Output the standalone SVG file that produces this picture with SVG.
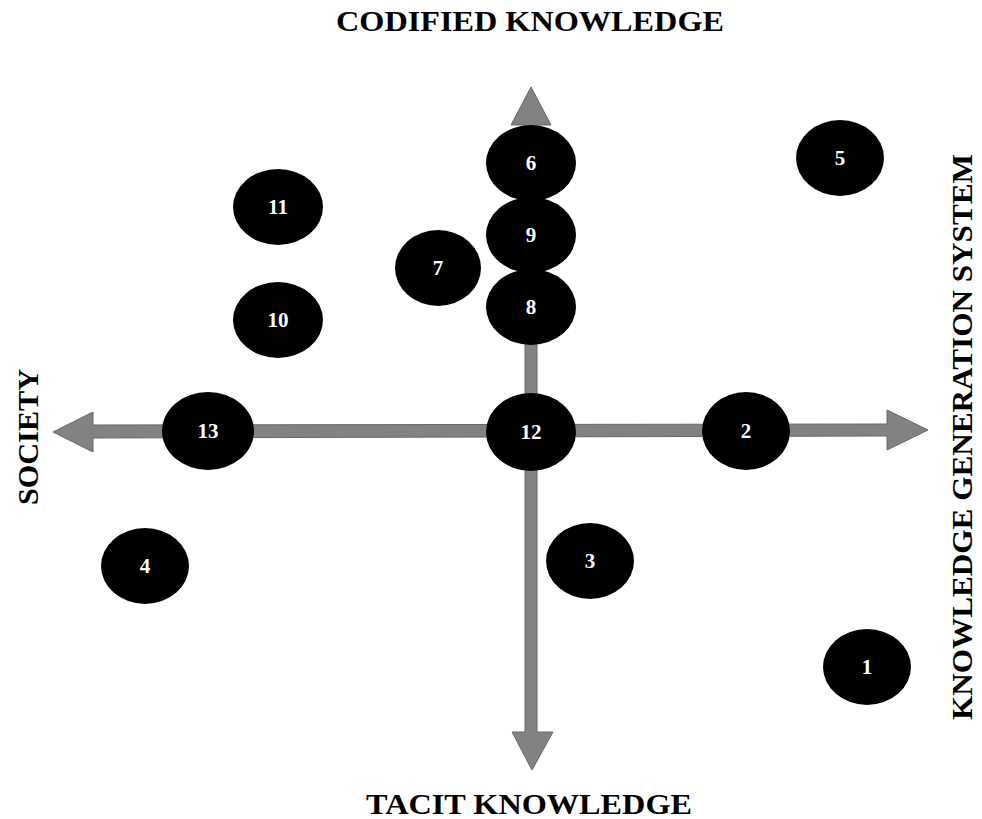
<svg xmlns="http://www.w3.org/2000/svg" width="982" height="819" viewBox="0 0 982 819">
<style>
.ax{fill:#828282;stroke:#666;stroke-width:1}
.nd{fill:#000}
.nt{fill:#fff;font-family:"Liberation Serif","Times New Roman",serif;font-weight:bold;font-size:21px;text-anchor:middle}
.lb{fill:#000;font-family:"Liberation Serif","Times New Roman",serif;font-weight:bold;font-size:30px;text-anchor:middle}
</style>
<rect width="982" height="819" fill="#fff"/>
<g id="connectors">
<polygon class="ax" points="525,125 511,125 531,87 551,125 537,125 537,732 553,732 532,770 512,732 525,732"/>
<polygon class="ax" points="93,425 93,412 53,432 93,452 93,438 887,436 887,450 928,430 887,410 887,424"/>
</g>
<g id="n6"><ellipse class="nd" cx="531" cy="163" rx="45" ry="38"/><text class="nt" x="531" y="170">6</text></g>
<g id="n9"><ellipse class="nd" cx="531" cy="235" rx="45" ry="38"/><text class="nt" x="531" y="242">9</text></g>
<g id="n8"><ellipse class="nd" cx="531" cy="307" rx="45" ry="38"/><text class="nt" x="531" y="314">8</text></g>
<g id="n7"><ellipse class="nd" cx="438" cy="268" rx="43" ry="38"/><text class="nt" x="438" y="275">7</text></g>
<g id="n11"><ellipse class="nd" cx="278" cy="207" rx="45" ry="38"/><text class="nt" x="278" y="214">11</text></g>
<g id="n10"><ellipse class="nd" cx="278" cy="320" rx="45" ry="38"/><text class="nt" x="278" y="327">10</text></g>
<g id="n5"><ellipse class="nd" cx="840" cy="158" rx="44" ry="38"/><text class="nt" x="840" y="165">5</text></g>
<g id="n13"><ellipse class="nd" cx="208" cy="431" rx="46" ry="39"/><text class="nt" x="208" y="438">13</text></g>
<g id="n12"><ellipse class="nd" cx="531" cy="432" rx="45" ry="39"/><text class="nt" x="531" y="439">12</text></g>
<g id="n2"><ellipse class="nd" cx="746" cy="431" rx="44" ry="39"/><text class="nt" x="746" y="438">2</text></g>
<g id="n3"><ellipse class="nd" cx="590" cy="561" rx="44" ry="38"/><text class="nt" x="590" y="568">3</text></g>
<g id="n4"><ellipse class="nd" cx="145" cy="566" rx="44" ry="38"/><text class="nt" x="145" y="573">4</text></g>
<g id="n1"><ellipse class="nd" cx="867" cy="667" rx="44" ry="38"/><text class="nt" x="867" y="674">1</text></g>
<g id="labels">
<text class="lb" x="530" y="31" textLength="388" lengthAdjust="spacingAndGlyphs">CODIFIED KNOWLEDGE</text>
<text class="lb" x="529" y="814" textLength="326" lengthAdjust="spacingAndGlyphs">TACIT KNOWLEDGE</text>
<text class="lb" transform="translate(38,437) rotate(-90)" textLength="136" lengthAdjust="spacingAndGlyphs">SOCIETY</text>
<text class="lb" transform="translate(972,437) rotate(-90)" textLength="566" lengthAdjust="spacingAndGlyphs">KNOWLEDGE GENERATION SYSTEM</text>
</g>
</svg>
